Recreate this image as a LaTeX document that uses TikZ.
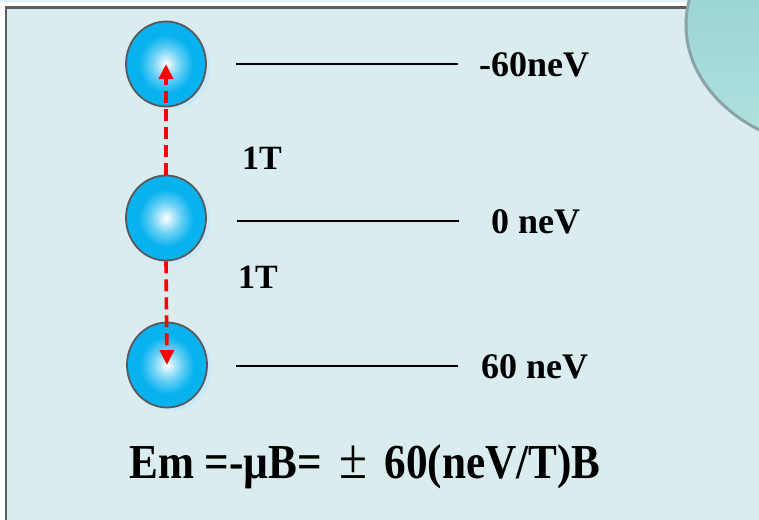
\documentclass[tikz,border=0pt]{standalone}
\usepackage{fontspec}
\setmainfont{Liberation Serif}
\usetikzlibrary{arrows.meta,shapes.geometric,shadows}

\definecolor{panelfill}{HTML}{DAECEE}
\definecolor{panelline}{HTML}{5E5E5E}
\definecolor{topband}{HTML}{E2F2FA}
\definecolor{ballblue}{HTML}{08B2EE}
\definecolor{ballshadow}{HTML}{CDE9F8}
\definecolor{blobtop}{HTML}{8CCDCE}
\definecolor{blobbottom}{HTML}{B2E2DF}
\definecolor{blobline}{HTML}{8AA3A6}

\pgfdeclareradialshading{ballshade}{\pgfpoint{0bp}{0bp}}{%
  color(0bp)=(white); color(3bp)=(white!80!ballblue);
  color(9bp)=(white!40!ballblue); color(17bp)=(ballblue);
  color(25bp)=(ballblue); color(50bp)=(ballblue)}

\tikzset{
  ball/.style={draw=black!65, line width=1.8pt, ellipse, shading=ballshade,
    minimum width=80pt, minimum height=85pt, inner sep=0pt,
    drop shadow={shadow xshift=5pt, shadow yshift=-3pt, fill=ballshadow, opacity=1}},
  flip/.style={red, line width=3.6pt, dash pattern=on 12pt off 6pt,
    -{Triangle[width=14pt,length=15pt]}},
  level/.style={black, line width=2pt},
  energy/.style={anchor=west, font=\fontsize{36}{40}\selectfont\bfseries, inner sep=0pt},
  field/.style={anchor=west, font=\fontsize{34}{38}\selectfont\bfseries, inner sep=0pt}
}

\begin{document}
\begin{tikzpicture}[x=1pt, y=-1pt]
  \useasboundingbox (0,0) rectangle (759,519);
  % slide panel
  \fill[topband] (0,0) rectangle (759,1.8);
  \draw[panelline, fill=panelfill, line width=2.5pt] (6,7.5) rectangle (820,560);
  \begin{scope}
    \clip (0,0) rectangle (759,519);
    \draw[blobline, line width=3pt, top color=blobtop, bottom color=blobbottom]
      (850,25) ellipse [x radius=164, y radius=126];
  \end{scope}

  % spin states
  \node[ball] (up)   at (166,64)  {};
  \node[ball] (zero) at (166,218) {};
  \node[ball] (down) at (167,365) {};

  \draw[flip] (zero.north) -- (up.center);
  \draw[flip] (zero.south) -- (down.center);

  % energy levels
  \draw[level] (236,64)  -- (458,64);
  \draw[level] (237,221) -- (459,221);
  \draw[level] (236,366) -- (458,366);

  \node[energy] (eup)   at (479,65)  {-60neV};
  \node[energy] (ezero) at (491,222) {0 neV};
  \node[energy] (edown) at (481,367) {60 neV};

  \node[field] (b1) at (242,158) {1T};
  \node[field] (b2) at (238,277) {1T};

  \node[anchor=west, inner sep=0pt] (eq) at (129,467)
    {\scalebox{1}[1.13]{\fontsize{43.2}{48}\selectfont\bfseries Em =-µB=\hspace{0.4em}{\mdseries\fontsize{51}{48}\selectfont ±}\hspace{0.4em}60(neV/T)B}};
\end{tikzpicture}
\end{document}
